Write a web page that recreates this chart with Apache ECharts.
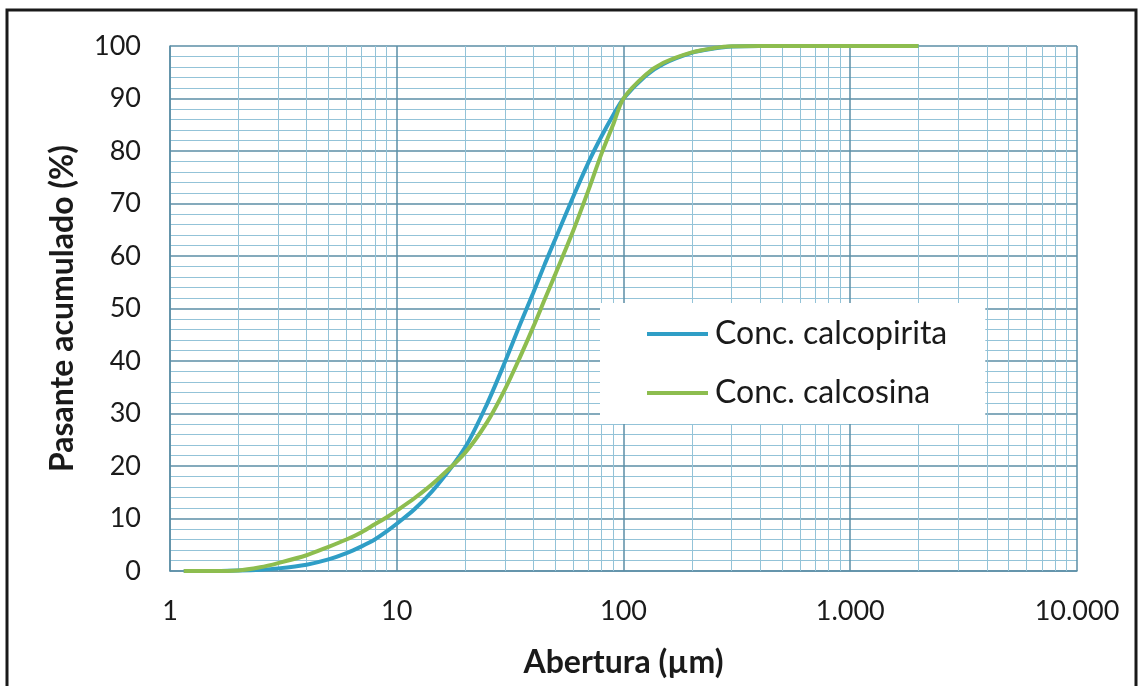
<!DOCTYPE html>
<html>
<head>
<meta charset="utf-8">
<script src="https://cdn.jsdelivr.net/npm/echarts@6/dist/echarts.min.js"></script>
<style>
html,body{margin:0;padding:0;background:#fff;}
#chart{width:1139px;height:686px;}
</style>
</head>
<body>
<div id="chart"></div>
<script>
// Data
const seriesNames = ['Conc. calcopirita', 'Conc. calcosina'];
const apertureCalcopirita = [1.15, 1.5, 2, 2.5, 3, 4, 5, 6, 7, 8, 9, 10, 12, 15, 20, 25, 30, 35, 40, 45, 50, 60, 70, 80, 90, 100, 125, 150, 200, 250, 300, 400, 600, 1000, 2000];
const passingCalcopirita = [0, 0, 0.1, 0.25, 0.5, 1.2, 2.2, 3.4, 4.7, 6.0, 7.5, 9, 11.8, 16.2, 23.5, 31.8, 39.8, 47, 53, 58.5, 63.2, 71.3, 77.8, 82.8, 86.8, 90, 94.3, 96.6, 98.7, 99.5, 99.9, 100, 100, 100, 100];
const apertureCalcosina = [1.15, 1.5, 2, 2.5, 3, 4, 5, 6, 7, 8, 9, 10, 12, 15, 20, 25, 30, 35, 40, 45, 50, 60, 70, 80, 90, 100, 125, 150, 200, 250, 300, 400, 600, 1000, 2000];
const passingCalcosina = [0, 0, 0.1, 0.7, 1.5, 3.0, 4.6, 6.0, 7.4, 8.9, 10.2, 11.5, 13.9, 17.3, 22.5, 28.3, 34.6, 40.8, 46.5, 51.8, 56.5, 64.8, 72.5, 79.5, 85, 90, 94.5, 96.8, 98.8, 99.6, 99.95, 100, 100, 100, 100];
const xTickValues = [1, 10, 100, 1000, 10000];
const xTickLabels = ['1', '10', '100', '1.000', '10.000'];
const yMin = 0, yMax = 100, yInterval = 10;
const xAxisTitle = 'Abertura (µm)';
const yAxisTitle = 'Pasante acumulado (%)';

// minor log grid positions (2..9 in each decade)
const minorX = [];
for (let d = 1; d < 10000; d *= 10) {
  for (let m = 2; m <= 9; m++) minorX.push(m * d);
}

const FONT = 'Lato';
const majorColor = '#5b8ea6';
const minorColor = '#93c3d8';

const chart = echarts.init(document.getElementById('chart'), null, {renderer: 'canvas'});
chart.setOption({
  backgroundColor: '#ffffff',
  animation: false,
  textStyle: {fontFamily: FONT},
  graphic: [{
    type: 'rect',
    shape: {x: 7, y: 10, width: 1129, height: 720},
    style: {fill: 'none', stroke: '#1a1a1a', lineWidth: 3},
    z: 100
  }],
  grid: {left: 170, right: 62, top: 46, bottom: 115, containLabel: false},
  legend: {
    data: seriesNames,
    orient: 'vertical',
    left: 600,
    top: 303,
    backgroundColor: '#ffffff',
    padding: [15, 38, 15, 47],
    itemGap: 27,
    itemWidth: 61,
    itemHeight: 4,
    icon: 'rect',
    textStyle: {fontFamily: FONT, fontSize: 32, color: '#1a1a1a', padding: [0, 0, 0, 2]},
    z: 10
  },
  xAxis: {
    type: 'log',
    logBase: 10,
    min: 1,
    max: 10000,
    name: xAxisTitle,
    nameLocation: 'middle',
    nameGap: 76,
    nameTextStyle: {fontFamily: FONT, fontSize: 32, fontWeight: 'bold', color: '#1a1a1a'},
    axisLine: {show: true, lineStyle: {color: majorColor, width: 1.5}},
    axisTick: {show: false},
    axisLabel: {
      fontFamily: FONT, fontSize: 27, color: '#1a1a1a', margin: 27,
      formatter: function (v) {
        const i = xTickValues.findIndex(t => Math.abs(t - v) < 1e-6 * t);
        return i >= 0 ? xTickLabels[i] : '';
      }
    },
    splitLine: {show: true, lineStyle: {color: majorColor, width: 1.5}}
  },
  yAxis: {
    type: 'value',
    min: yMin,
    max: yMax,
    interval: yInterval,
    name: yAxisTitle,
    nameLocation: 'middle',
    nameGap: 91,
    nameTextStyle: {fontFamily: FONT, fontSize: 32, fontWeight: 'bold', color: '#1a1a1a'},
    axisLine: {show: true, lineStyle: {color: majorColor, width: 1.5}},
    axisTick: {show: false},
    axisLabel: {fontFamily: FONT, fontSize: 27, color: '#1a1a1a', margin: 29},
    splitLine: {show: true, lineStyle: {color: majorColor, width: 1.5}},
    minorTick: {show: false, splitNumber: 5},
    minorSplitLine: {show: true, lineStyle: {color: minorColor, width: 1}}
  },
  series: [
    {
      name: 'grid-minor',
      type: 'line',
      data: [],
      silent: true,
      z: 1,
      markLine: {
        silent: true,
        symbol: ['none', 'none'],
        label: {show: false},
        lineStyle: {color: minorColor, width: 1, type: 'solid'},
        data: minorX.map(v => ({xAxis: v})),
        z: 1,
        animation: false
      }
    },
    {
      name: seriesNames[0],
      type: 'line',
      smooth: 0.3,
      showSymbol: false,
      symbol: 'none',
      lineStyle: {color: '#2f9ec6', width: 4},
      itemStyle: {color: '#2f9ec6'},
      data: apertureCalcopirita.map((x, i) => [x, passingCalcopirita[i]]),
      z: 3
    },
    {
      name: seriesNames[1],
      type: 'line',
      smooth: 0.3,
      showSymbol: false,
      symbol: 'none',
      lineStyle: {color: '#8dbd4f', width: 4},
      itemStyle: {color: '#8dbd4f'},
      data: apertureCalcosina.map((x, i) => [x, passingCalcosina[i]]),
      z: 4
    }
  ]
});
</script>
</body>
</html>
